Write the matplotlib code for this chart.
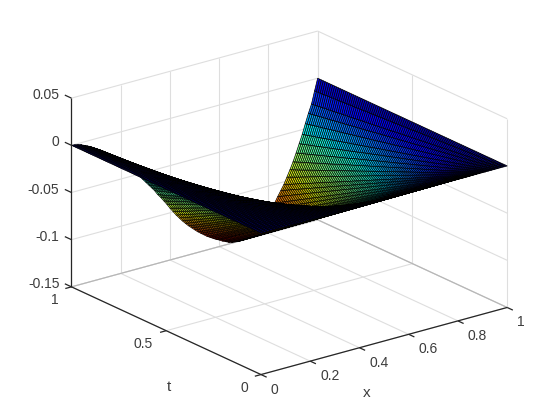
import numpy as np
import matplotlib
matplotlib.use('Agg')
import matplotlib.pyplot as plt
from mpl_toolkits.mplot3d import proj3d

# depth of the surface along its far edge (t = 1);
# lines of constant x look straight from t = 0 to t = 1 in the reference
edge_depth = [
    0, -0.0003, -0.001, -0.002, -0.0035, -0.005, -0.0065, -0.0085, -0.0105,
    -0.0125, -0.015, -0.0175, -0.02, -0.023, -0.0258, -0.0285, -0.0315,
    -0.0345, -0.0378, -0.041, -0.045, -0.0485, -0.052, -0.056, -0.06, -0.064,
    -0.068, -0.072, -0.077, -0.081, -0.0855, -0.09, -0.095, -0.0995, -0.104,
    -0.108, -0.112, -0.1155, -0.119, -0.122, -0.125, -0.128, -0.1305, -0.133,
    -0.1355, -0.1375, -0.1395, -0.1415, -0.143, -0.145, -0.1465, -0.148,
    -0.149, -0.1495, -0.15, -0.15, -0.1495, -0.149, -0.1475, -0.146, -0.1435,
    -0.141, -0.1375, -0.134, -0.13, -0.125, -0.12, -0.114, -0.1085, -0.103,
    -0.096, -0.089, -0.0815, -0.073, -0.064, -0.055, -0.0445, -0.0345,
    -0.0255, -0.0125, 0,
]
x_ticks = [0, 0.2, 0.4, 0.6, 0.8, 1]
x_labels = ['0', '0.2', '0.4', '0.6', '0.8', '1']
t_ticks = [0, 0.5, 1]
t_labels = ['0', '0.5', '1']
z_ticks = [-0.15, -0.1, -0.05, 0, 0.05]
z_labels = ['-0.15', '-0.1', '-0.05', '0', '0.05']

plt.rcParams['font.family'] = ['Liberation Sans', 'DejaVu Sans']
text_col = '#3c3c3c'
axis_col = '#262626'
grid_col = '#dedede'
floor_col = '#b5b5b5'

fig = plt.figure(figsize=(5.6, 4.2), dpi=100)
ax = fig.add_axes([0.0065, 0.0036, 1.0, 1.0], projection='3d', computed_zorder=False)
ax.set_proj_type('ortho')
ax.view_init(elev=20.8, azim=-127.5)
ax.set_box_aspect((309, 310, 201), zoom=1.118)
ax.set_xlim(0, 1)
ax.set_ylim(0, 1)
ax.set_zlim(-0.15, 0.05)
ax.set_axis_off()


def line3(xs, ys, zs, col, lw=0.8, zo=1):
    ax.plot(xs, ys, zs, color=col, lw=lw, zorder=zo, solid_capstyle='butt', clip_on=False)


def label(x, y, z, s, dx, dy, ha, size=10):
    px, py, _ = proj3d.proj_transform(x, y, z, ax.get_proj())
    ax.annotate(s, (px, py), xytext=(dx, -dy), textcoords='offset pixels', ha=ha, va='center',
                fontsize=size, color=text_col, annotation_clip=False)


# walls and floor
for v in x_ticks:
    line3([v, v], [1, 1], [-0.15, 0.05], grid_col)
    line3([v, v], [0, 1], [-0.15, -0.15], grid_col)
for v in t_ticks:
    line3([1, 1], [v, v], [-0.15, 0.05], grid_col)
    line3([0, 1], [v, v], [-0.15, -0.15], grid_col)
for v in z_ticks:
    line3([0, 1], [1, 1], [v, v], grid_col)
    line3([1, 1], [0, 1], [v, v], grid_col)
line3([0, 1], [1, 1], [-0.15, -0.15], floor_col)
line3([1, 1], [0, 1], [-0.15, -0.15], floor_col)

x = np.linspace(0, 1, len(edge_depth))
t = np.linspace(0, 1, 101)
X, T = np.meshgrid(x, t)
Z = np.outer(t, edge_depth)
cols = matplotlib.colormaps['jet_r'](plt.Normalize(-0.15, 0)(Z))
surf = ax.plot_surface(X, T, Z, rstride=1, cstride=1, facecolors=cols, edgecolor='k',
                       linewidth=0.5, shade=False, zorder=2)
surf.set_clip_on(False)

# axes lines and ticks
line3([0, 1], [0, 0], [-0.15, -0.15], axis_col, 0.9, 3)
line3([0, 0], [0, 1], [-0.15, -0.15], axis_col, 0.9, 3)
line3([0, 0], [1, 1], [-0.15, 0.05], axis_col, 0.9, 3)
for v, s in zip(x_ticks, x_labels):
    line3([v, v], [0, -0.03], [-0.15, -0.15], axis_col, 0.9, 3)
    label(v, 0, -0.15, s, 10, 15, 'left')
for v, s in zip(t_ticks, t_labels):
    line3([0, -0.025], [v, v], [-0.15, -0.15], axis_col, 0.9, 3)
    label(0, v, -0.15, s, -13, 13, 'right')
for v, s in zip(z_ticks, z_labels):
    line3([0, 0], [1, 1.035], [v, v], axis_col, 0.9, 3)
    label(0, 1, v, s, -12, -3, 'right')

label(0.5, 0, -0.15, 'x', -17, 52, 'center', 11)
label(0, 0.5, -0.15, 't', 2.5, 56, 'center', 11)

fig.savefig('out.png', dpi=100)
